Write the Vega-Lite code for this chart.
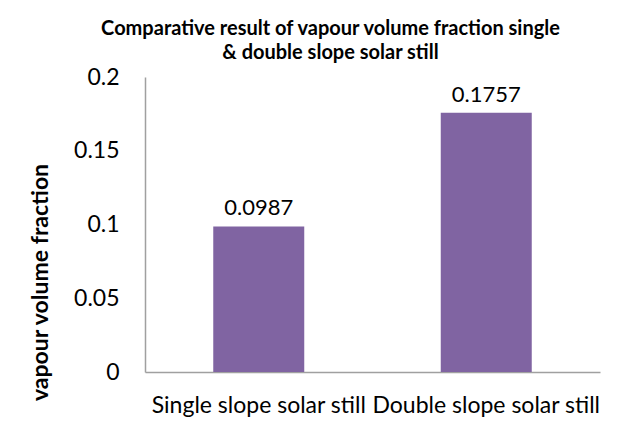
{
  "$schema": "https://vega.github.io/schema/vega-lite/v6.json",
  "width": 455,
  "height": 295,
  "autosize": "none",
  "padding": {"left": 145, "top": 77, "right": 27, "bottom": 63},
  "background": "white",
  "data": {"values": [
    {"still": "Single slope solar still", "fraction": 0.0987},
    {"still": "Double slope solar still", "fraction": 0.1757}
  ]},
  "title": {
    "text": ["Comparative result of vapour volume fraction single", "& double slope solar still"],
    "font": "Lato", "fontSize": 20, "fontWeight": "bold", "color": "black",
    "anchor": "middle", "dx": -42, "offset": 3, "lineHeight": 24
  },
  "config": {"view": {"stroke": null}, "font": "Lato"},
  "layer": [
    {
      "mark": {"type": "bar", "color": "#8064A2"},
      "encoding": {
        "x": {"field": "still", "type": "nominal", "sort": null,
              "scale": {"paddingInner": 0.6, "paddingOuter": 0.3},
              "axis": {"title": null, "labelAngle": 0, "labelFontSize": 23, "labelColor": "black",
                       "labelPadding": 22, "ticks": false, "domainColor": "#a0a0a0", "domainWidth": 1.5,
                       "labelOverlap": false, "labelBound": false, "labelLimit": 0}},
        "y": {"field": "fraction", "type": "quantitative",
              "scale": {"domain": [0, 0.2]},
              "axis": {"title": "vapour volume fraction", "titleFontSize": 23, "titleFontWeight": "bold",
                       "titleColor": "black", "titleX": -98, "titleY": 205, "titleBaseline": "alphabetic",
                       "titleAngle": 270, "titleAlign": "center",
                       "values": [0, 0.05, 0.1, 0.15, 0.2], "format": "~g",
                       "labelFontSize": 23, "labelColor": "black", "labelPadding": 26, "ticks": false,
                       "grid": false, "domainColor": "#a0a0a0", "domainWidth": 1.5}}
      }
    },
    {
      "mark": {"type": "text", "fontSize": 22, "dy": -18, "color": "black"},
      "encoding": {
        "x": {"field": "still", "type": "nominal", "sort": null},
        "y": {"field": "fraction", "type": "quantitative"},
        "text": {"field": "fraction", "type": "quantitative", "format": ".4f"}
      }
    }
  ]
}
